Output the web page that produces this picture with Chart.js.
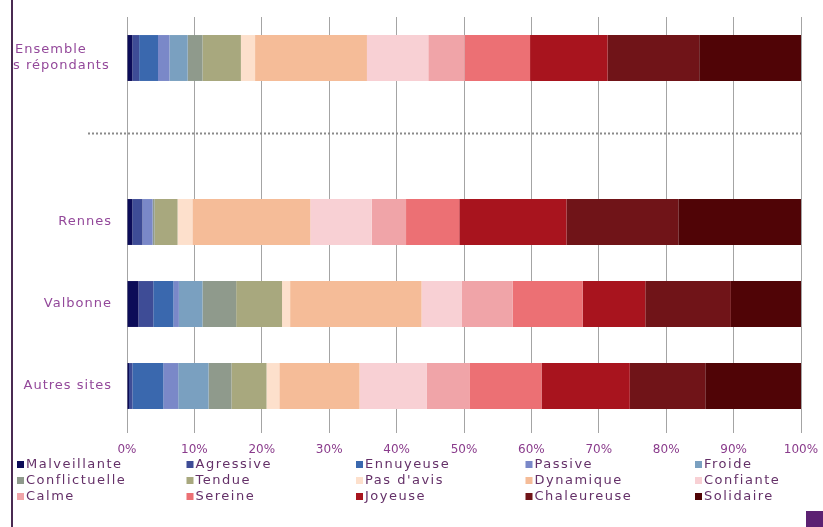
<!DOCTYPE html>
<html lang="fr">
<head>
<meta charset="utf-8">
<script src="https://cdn.jsdelivr.net/npm/chart.js@4.4.1/dist/chart.umd.min.js"></script>
<style>
  html, body { margin: 0; padding: 0; background: #fff; }
  #wrap { position: relative; width: 823px; height: 527px; overflow: hidden; }
  #frame { position: absolute; left: 11px; top: 0; width: 2px; height: 527px; background: #4a2a52; }
  #corner { position: absolute; right: 0; bottom: 0; width: 17px; height: 16px; background: #5c2172; }
  canvas { position: absolute; left: 0; top: 0; }
</style>
</head>
<body>
<div id="wrap">
  <canvas id="c" width="823" height="527"></canvas>
  <div id="frame"></div>
  <div id="corner"></div>
</div>
<script>
// Rows of the chart (the blank row holds the dotted separator)
const categories = [['Ensemble', 's répondants'], '', 'Rennes', 'Valbonne', 'Autres sites'];

// Response categories, in stacking order
const seriesNames = ['Malveillante', 'Agressive', 'Ennuyeuse', 'Passive', 'Froide',
  'Conflictuelle', 'Tendue', "Pas d'avis", 'Dynamique', 'Confiante',
  'Calme', 'Sereine', 'Joyeuse', 'Chaleureuse', 'Solidaire'];

const seriesColors = ['#0c0c58', '#3e4c96', '#3a68ae', '#7a88c8', '#7aa0c0',
  '#8f9a8c', '#a8a87e', '#fde0cc', '#f5bc98', '#f8d0d4',
  '#f0a4a8', '#ec7074', '#a8141e', '#701418', '#500406'];

// Share of answers (%) per site, one value per response category
const ensemble    = [0.8, 1.0, 2.8, 1.7, 2.7, 2.2, 5.7, 2.1, 16.6, 9.1, 5.4, 9.7, 11.5, 13.6, 15.1];
const rennes      = [0.8, 1.5, 0.0, 1.5, 0.0, 0.3, 3.4, 2.2, 17.5, 9.1, 5.1, 7.9, 15.9, 16.6, 18.2];
const valbonne    = [1.7, 2.2, 3.0, 0.8, 3.5, 5.0, 6.8, 1.2, 19.5, 6.0, 7.5, 10.4, 9.3, 12.7, 10.4];
const autresSites = [0.3, 0.5, 4.6, 2.2, 4.5, 3.4, 5.2, 1.9, 11.9, 10.0, 6.3, 10.7, 13.1, 11.2, 14.2];

const xTicks = [0, 10, 20, 30, 40, 50, 60, 70, 80, 90, 100];

const rows = [ensemble, null, rennes, valbonne, autresSites];

const datasets = seriesNames.map((name, i) => ({
  label: name,
  data: rows.map(r => (r ? r[i] : null)),
  backgroundColor: seriesColors[i],
  borderWidth: 0,
  barPercentage: 0.56,
  categoryPercentage: 1.0
}));

const FONT = 'DejaVu Sans, Verdana, sans-serif';

// Dotted separator between the overall row and the per-site rows
const separator = {
  id: 'separator',
  afterDatasetsDraw(chart) {
    const { ctx, chartArea } = chart;
    const y = Math.round(chart.scales.y.getPixelForValue(0.915)) + 0.5;
    ctx.save();
    ctx.strokeStyle = '#8a8a8a';
    ctx.lineWidth = 2;
    ctx.setLineDash([2, 2]);
    ctx.beginPath();
    ctx.moveTo(chartArea.left - 39, y);
    ctx.lineTo(chartArea.right, y);
    ctx.stroke();
    ctx.restore();
  }
};

// Row labels: wrapped labels start at the frame, single ones sit against the axis
const rowLabels = {
  id: 'rowLabels',
  afterDraw(chart) {
    const { ctx, chartArea } = chart;
    const scale = chart.scales.y;
    ctx.save();
    ctx.font = '13px ' + FONT;
    ctx.letterSpacing = '1px';
    ctx.fillStyle = '#93489a';
    ctx.textBaseline = 'middle';
    chart.data.labels.forEach((lab, i) => {
      const y = scale.getPixelForTick(i);
      if (Array.isArray(lab)) {
        ctx.textAlign = 'left';
        lab.forEach((line, k) => {
          ctx.fillText(line, k === 0 ? 15 : 13, y + (k - (lab.length - 1) / 2) * 16);
        });
      } else if (lab) {
        ctx.textAlign = 'right';
        ctx.fillText(lab, chartArea.left - 15, y);
      }
    });
    ctx.letterSpacing = '0px';
    ctx.restore();
  }
};

// Legend laid out as a 5-column grid under the axis
const gridLegend = {
  id: 'gridLegend',
  afterDraw(chart) {
    const { ctx } = chart;
    const sets = chart.data.datasets;
    ctx.save();
    ctx.font = '13px ' + FONT;
    ctx.letterSpacing = '1.5px';
    ctx.textBaseline = 'middle';
    sets.forEach((ds, i) => {
      const col = i % 5, row = Math.floor(i / 5);
      const x = 17 + col * 169.5;
      const y = 465 + row * 16;
      ctx.fillStyle = ds.backgroundColor;
      ctx.fillRect(x, y - 4, 7, 7);
      ctx.fillStyle = '#643068';
      ctx.textAlign = 'left';
      ctx.fillText(ds.label, x + 9, y);
    });
    ctx.letterSpacing = '0px';
    ctx.restore();
  }
};

new Chart(document.getElementById('c'), {
  type: 'bar',
  data: { labels: categories, datasets },
  options: {
    indexAxis: 'y',
    responsive: false,
    animation: false,
    layout: { padding: { left: 0, right: 22, top: 17, bottom: 66 } },
    plugins: {
      legend: { display: false },
      tooltip: { enabled: false }
    },
    scales: {
      x: {
        stacked: true,
        min: 0,
        max: 100,
        afterBuildTicks(scale) { scale.ticks = xTicks.map(v => ({ value: v })); },
        afterFit(scale) {
          scale.height = 34;
          scale.paddingLeft = 0;
          scale.paddingRight = 0;
        },
        grid: { color: '#a4a4a4', lineWidth: 1, drawTicks: true, tickLength: 6 },
        border: { display: false },
        ticks: {
          padding: 10,
          color: '#8a3c8c',
          font: { family: FONT, size: 12 },
          callback: v => v + '%'
        }
      },
      y: {
        stacked: true,
        afterFit(scale) { scale.width = 127; },
        grid: { display: false, drawTicks: false },
        border: { display: false },
        ticks: { display: false }
      }
    }
  },
  plugins: [separator, rowLabels, gridLegend]
});
</script>
</body>
</html>
